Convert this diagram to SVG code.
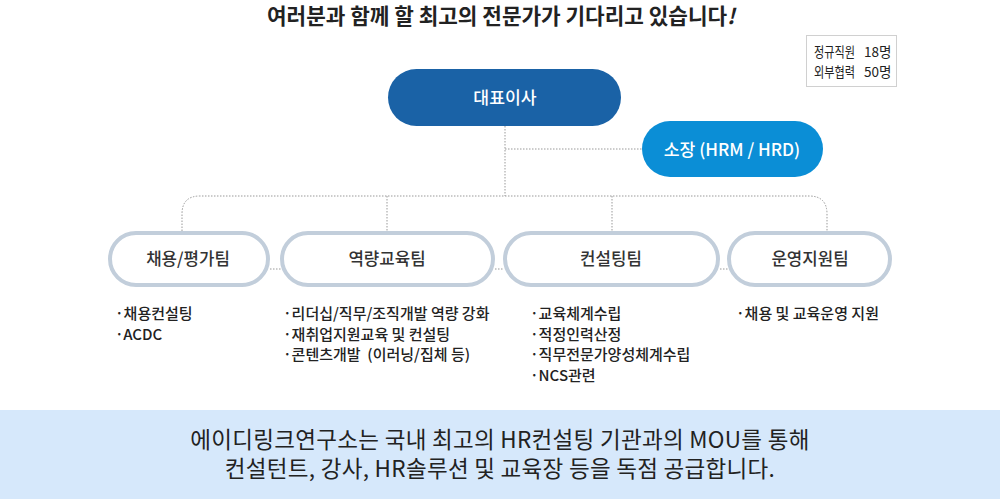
<svg xmlns="http://www.w3.org/2000/svg" width="1000" height="499" viewBox="0 0 1000 499">
<style>
text{font-family:"Noto Sans CJK KR","Noto Sans",sans-serif;}
.title{font-size:21.3px;font-weight:700;fill:#222;}
.legend{font-size:13.5px;fill:#222;}
.lead{font-size:17.2px;fill:#fff;font-weight:500;}
.team rect{fill:#fff;stroke:#c2cedb;stroke-width:4;}
.tl{font-size:16.8px;fill:#333;font-weight:500;}
.desc{font-size:15px;fill:#222;font-weight:500;}
.conn{fill:none;stroke:#999;stroke-width:1;stroke-dasharray:1.5 1.5;}
.band{font-size:22.5px;fill:#222;letter-spacing:0.3px;}
</style>
<rect width="1000" height="499" fill="#fff"/>
<text class="title" x="501" y="24" text-anchor="middle">여러분과 함께 할 최고의 전문가가 기다리고 있습니다<tspan font-style="italic">!</tspan></text>
<g id="legend">
<rect x="806.5" y="35.5" width="90" height="51" fill="#fff" stroke="#d0d0d0"/>
<text class="legend" x="814" y="57"><tspan textLength="41" lengthAdjust="spacingAndGlyphs">정규직원</tspan><tspan x="864">18명</tspan></text>
<text class="legend" x="814" y="77"><tspan textLength="41" lengthAdjust="spacingAndGlyphs">외부협력</tspan><tspan x="864">50명</tspan></text>
</g>
<g id="connectors">
<path class="conn" d="M505 126 V196"/>
<path class="conn" d="M505 149 H642"/>
<path class="conn" d="M182 231 V214 Q182 196 200 196 H809 Q827 196 827 214 V231"/>
<path class="conn" d="M387 196 V231"/>
<path class="conn" d="M612 196 V231"/>
<path class="conn" d="M270 269 H281"/>
<path class="conn" d="M495 269 H504"/>
<path class="conn" d="M720 269 H728"/>
</g>
<g id="ceo">
<rect x="388" y="69" width="233" height="57" rx="28.5" fill="#1a62a6"/>
<text class="lead" x="505" y="103.5" text-anchor="middle">대표이사</text>
</g>
<g id="director">
<rect x="642" y="121" width="181" height="56" rx="28" fill="#0b8ed6"/>
<text class="lead" x="732" y="155.5" text-anchor="middle">소장 (HRM / HRD)</text>
</g>
<g id="team1" class="team">
<rect x="110" y="233" width="158" height="52" rx="26"/>
<text class="tl" x="188" y="265" text-anchor="middle">채용/평가팀</text>
</g>
<g id="team2" class="team">
<rect x="282" y="233" width="211" height="52" rx="26"/>
<text class="tl" x="387" y="265" text-anchor="middle">역량교육팀</text>
</g>
<g id="team3" class="team">
<rect x="505" y="233" width="213" height="52" rx="26"/>
<text class="tl" x="611" y="265" text-anchor="middle">컨설팅팀</text>
</g>
<g id="team4" class="team">
<rect x="729" y="233" width="161" height="52" rx="26"/>
<text class="tl" x="810" y="265" text-anchor="middle">운영지원팀</text>
</g>
<g id="desc1">
<text class="desc" x="115" y="319">·채용컨설팅</text>
<text class="desc" x="115" y="340">·ACDC</text>
</g>
<g id="desc2">
<text class="desc" x="283" y="319">·리더십/직무/조직개발 역량 강화</text>
<text class="desc" x="283" y="340">·재취업지원교육 및 컨설팅</text>
<text class="desc" x="283" y="360" xml:space="preserve">·콘텐츠개발  (이러닝/집체 등)</text>
</g>
<g id="desc3">
<text class="desc" x="530" y="319">·교육체계수립</text>
<text class="desc" x="530" y="340">·적정인력산정</text>
<text class="desc" x="530" y="360">·직무전문가양성체계수립</text>
<text class="desc" x="530" y="381">·NCS관련</text>
</g>
<g id="desc4">
<text class="desc" x="736" y="319">·채용 및 교육운영 지원</text>
</g>
<g id="band">
<rect x="0" y="410" width="1000" height="89" fill="#d6e8fb"/>
<text class="band" x="500" y="448" text-anchor="middle">에이디링크연구소는 국내 최고의 HR컨설팅 기관과의 MOU를 통해</text>
<text class="band" x="500" y="477" text-anchor="middle">컨설턴트, 강사, HR솔루션 및 교육장 등을 독점 공급합니다.</text>
</g>
</svg>
